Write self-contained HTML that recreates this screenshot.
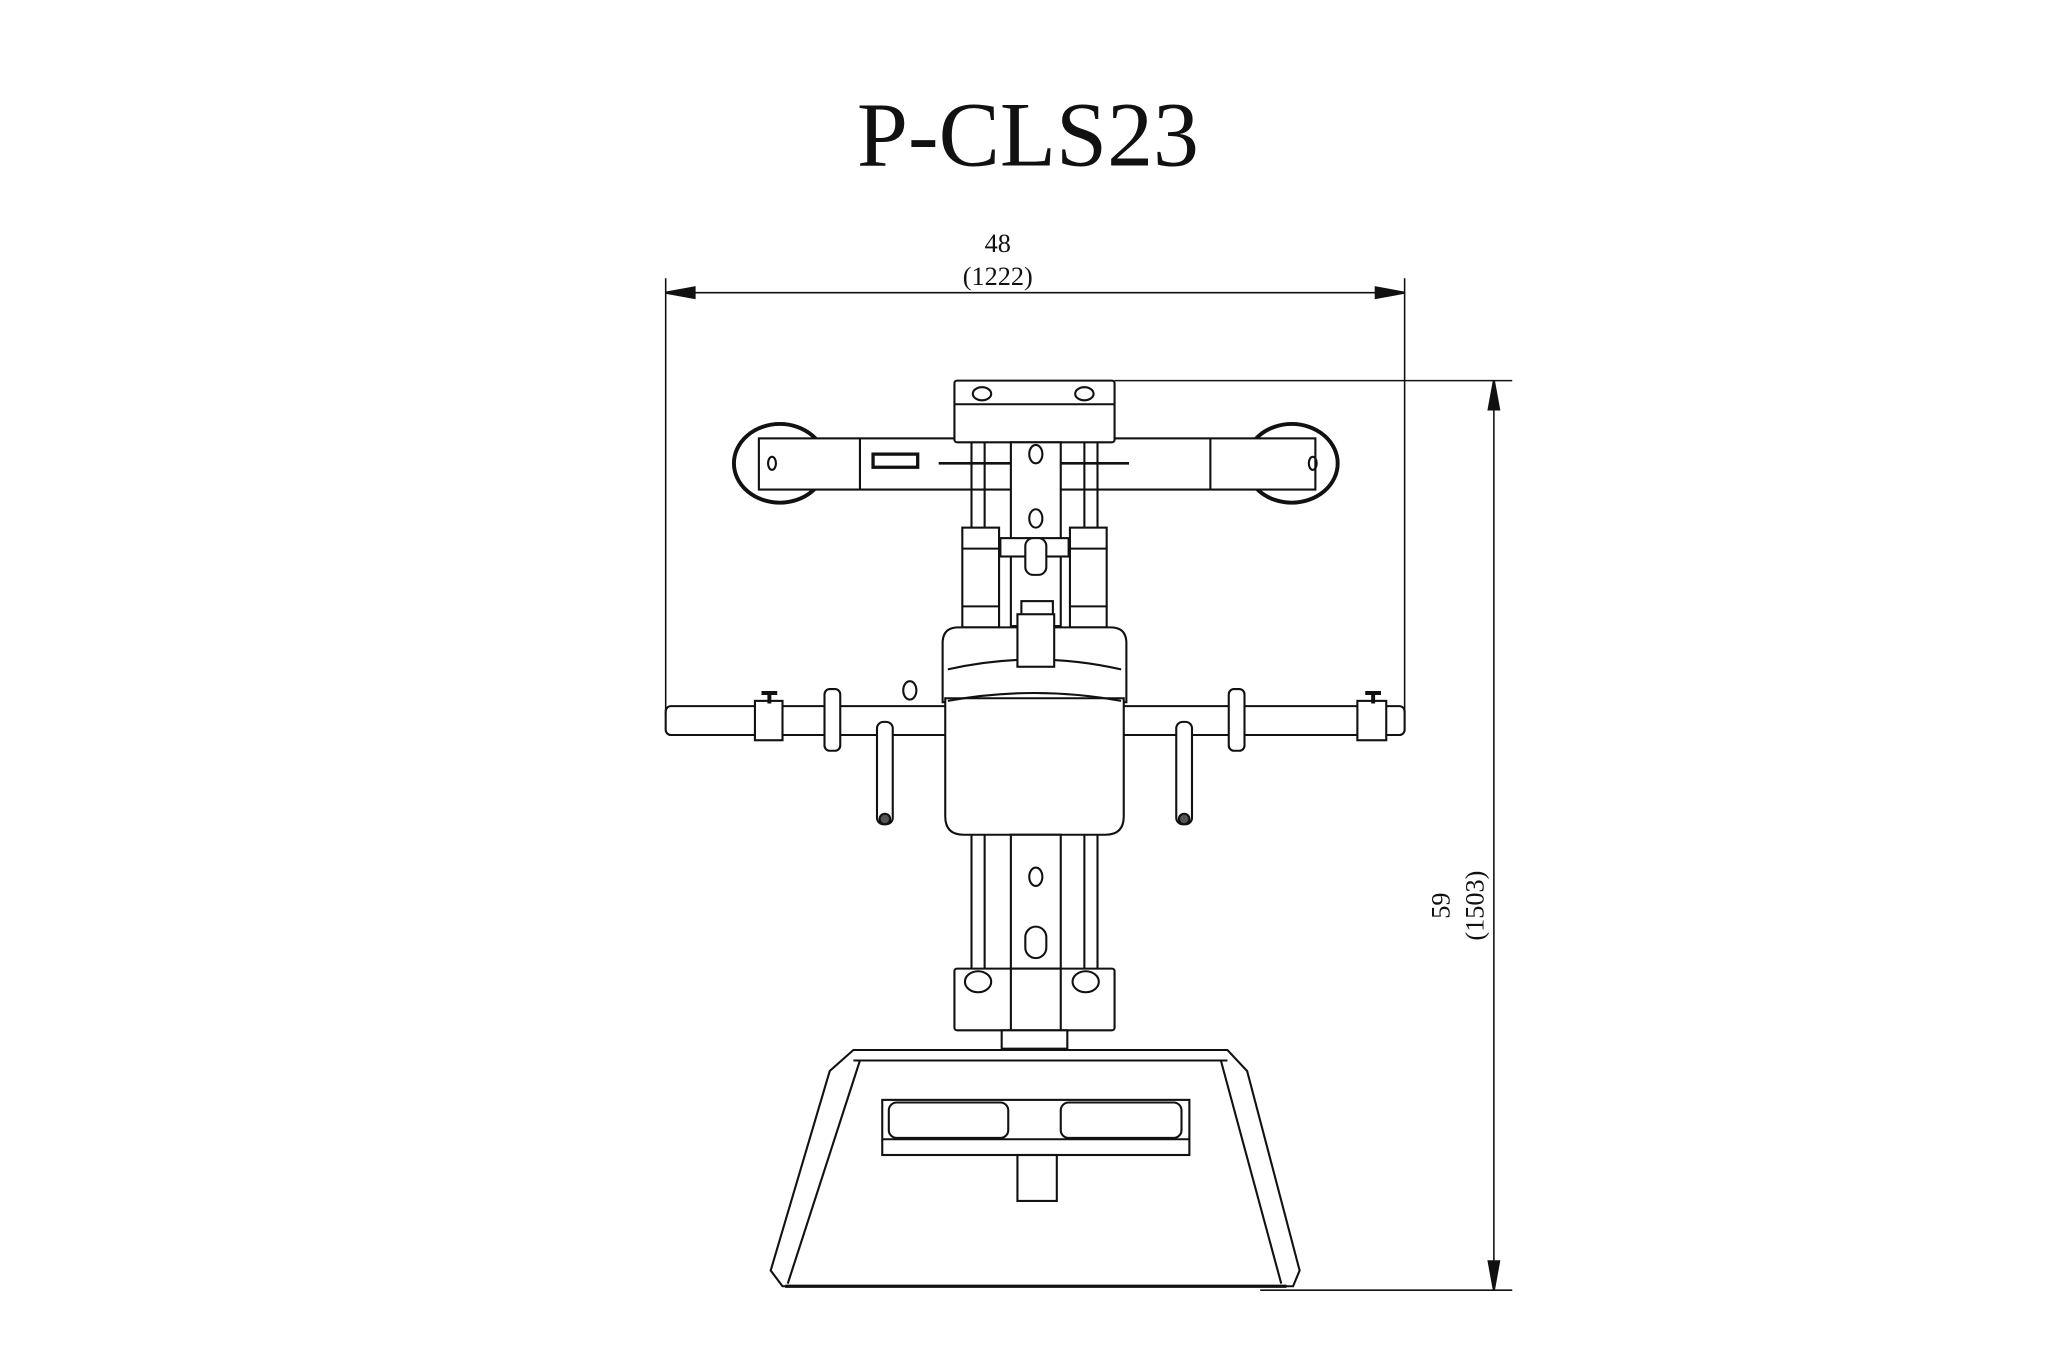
<!DOCTYPE html>
<html><head><meta charset="utf-8"><style>html,body{margin:0;padding:0;background:#fff}svg{display:block}</style></head>
<body>
<svg width="2048" height="1365" viewBox="0 0 1560 1040" xmlns="http://www.w3.org/2000/svg" fill="none" stroke="#111" stroke-width="1.6">
<text x="783" y="126" font-family="Liberation Serif, serif" font-size="70" fill="#111" stroke="none" text-anchor="middle">P-CLS23</text>
<!-- top dimension -->
<line x1="507" y1="212" x2="507" y2="545" stroke-width="1.2"/>
<line x1="1070" y1="212" x2="1070" y2="545" stroke-width="1.2"/>
<line x1="507" y1="223" x2="1070" y2="223" stroke-width="1.2"/>
<path d="M507 223 l22 -4 v8 z M1070 223 l-22 -4 v8 z" fill="#111"/>
<text x="760" y="192" font-family="Liberation Serif, serif" font-size="20" fill="#111" stroke="none" text-anchor="middle">48</text>
<text x="760" y="217" font-family="Liberation Serif, serif" font-size="20" fill="#111" stroke="none" text-anchor="middle">(1222)</text>
<!-- right dimension -->
<line x1="849" y1="290" x2="1152" y2="290" stroke-width="1.2"/>
<line x1="960" y1="983" x2="1152" y2="983" stroke-width="1.2"/>
<line x1="1138" y1="290" x2="1138" y2="983" stroke-width="1.2"/>
<path d="M1138 290 l-4 22 h8 z M1138 983 l-4 -22 h8 z" fill="#111"/>
<text transform="translate(1104 690) rotate(-90)" font-family="Liberation Serif, serif" font-size="20" fill="#111" stroke="none" text-anchor="middle">59</text>
<text transform="translate(1130 690) rotate(-90)" font-family="Liberation Serif, serif" font-size="20" fill="#111" stroke="none" text-anchor="middle">(1503)</text>
<!-- discs -->
<ellipse cx="594" cy="353" rx="35" ry="30" stroke-width="3"/>
<ellipse cx="984" cy="353" rx="35" ry="30" stroke-width="3"/>
<!-- crossbar -->
<rect x="578" y="334" width="424" height="39" fill="#fff"/>
<line x1="655" y1="334" x2="655" y2="373"/><line x1="922" y1="334" x2="922" y2="373"/>
<ellipse cx="588" cy="353" rx="3" ry="5"/><ellipse cx="1000" cy="353" rx="3" ry="5"/>
<rect x="665" y="346" width="34" height="10" stroke-width="2.5"/>
<line x1="715" y1="353" x2="860" y2="353" stroke-width="2"/>
<!-- top block -->
<rect x="727" y="290" width="122" height="47" rx="2" fill="#fff"/>
<line x1="727" y1="308" x2="849" y2="308"/>
<ellipse cx="748" cy="300" rx="7" ry="5"/><ellipse cx="826" cy="300" rx="7" ry="5"/>
<!-- upper column -->
<line x1="740" y1="337" x2="740" y2="480"/><line x1="750" y1="337" x2="750" y2="480"/>
<line x1="826" y1="337" x2="826" y2="480"/><line x1="836" y1="337" x2="836" y2="480"/>
<rect x="770" y="337" width="38" height="140" fill="#fff"/>
<ellipse cx="789" cy="346" rx="5" ry="7"/><ellipse cx="789" cy="395" rx="5" ry="7"/>
<rect x="733" y="402" width="28" height="76" fill="#fff"/><rect x="815" y="402" width="28" height="76" fill="#fff"/>
<line x1="733" y1="418" x2="761" y2="418"/><line x1="815" y1="418" x2="843" y2="418"/>
<line x1="733" y1="462" x2="761" y2="462"/><line x1="815" y1="462" x2="843" y2="462"/>
<rect x="762" y="410" width="52" height="14" fill="#fff"/>
<rect x="781" y="410" width="16" height="28" rx="6" fill="#fff"/>
<rect x="778" y="458" width="24" height="30" fill="#fff"/>
<!-- seat -->
<path d="M718 535 V490 Q718 478 730 478 H846 Q858 478 858 490 V535 Z" fill="#fff"/>
<path d="M722 510 Q788 495 854 510"/>
<rect x="775" y="468" width="28" height="40" fill="#fff"/>
<!-- horizontal bar -->
<rect x="507" y="538" width="563" height="22" rx="4" fill="#fff"/>
<rect x="575" y="534" width="21" height="30" fill="#fff"/>
<rect x="1034" y="534" width="22" height="30" fill="#fff"/>
<path d="M580 528 h12 M586 528 v8" stroke-width="3"/><path d="M1040 528 h12 M1046 528 v8" stroke-width="3"/>
<rect x="628" y="525" width="12" height="47" rx="4" fill="#fff"/>
<rect x="936" y="525" width="12" height="47" rx="4" fill="#fff"/>
<ellipse cx="693" cy="526" rx="5" ry="7"/>
<rect x="668" y="550" width="12" height="78" rx="5" fill="#fff"/>
<rect x="896" y="550" width="12" height="78" rx="5" fill="#fff"/>
<circle cx="674" cy="624" r="4" fill="#555"/><circle cx="902" cy="624" r="4" fill="#555"/>
<!-- back pad -->
<path d="M720 532 H856 V622 Q856 636 842 636 H734 Q720 636 720 622 Z" fill="#fff"/>
<path d="M722 534 Q788 522 854 534"/>
<!-- lower column -->
<line x1="740" y1="636" x2="740" y2="740"/><line x1="750" y1="636" x2="750" y2="740"/>
<line x1="826" y1="636" x2="826" y2="740"/><line x1="836" y1="636" x2="836" y2="740"/>
<rect x="770" y="636" width="38" height="150" fill="#fff"/>
<ellipse cx="789" cy="668" rx="5" ry="7"/>
<rect x="781" y="706" width="16" height="24" rx="8"/>
<rect x="727" y="738" width="122" height="47" rx="2" fill="#fff"/>
<rect x="770" y="738" width="38" height="47" fill="#fff"/>
<ellipse cx="745" cy="748" rx="10" ry="8"/><ellipse cx="827" cy="748" rx="10" ry="8"/>
<rect x="763" y="785" width="50" height="14" fill="#fff"/>
<!-- base -->
<path d="M650 800 H935 L950 816 L990 968 L985 980 H596 L587 968 L632 816 Z" fill="#fff"/>
<line x1="655" y1="808" x2="600" y2="978"/><line x1="930" y1="808" x2="976" y2="978"/>
<line x1="650" y1="808" x2="935" y2="808"/>
<line x1="598" y1="980" x2="980" y2="980" stroke-width="2.5"/>
<rect x="672" y="838" width="234" height="42"/>
<line x1="672" y1="868" x2="906" y2="868"/>
<rect x="677" y="840" width="91" height="27" rx="6"/>
<rect x="808" y="840" width="92" height="27" rx="6"/>
<rect x="775" y="880" width="30" height="35"/>
</svg>
</body></html>
